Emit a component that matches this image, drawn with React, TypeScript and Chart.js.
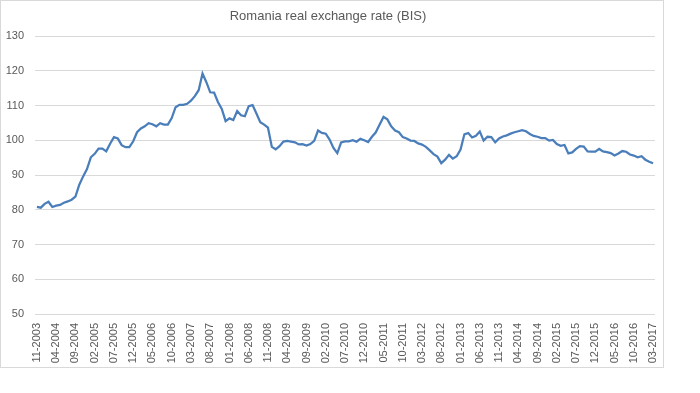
import React, { useEffect, useRef } from "react";
import { Chart, registerables } from "chart.js";

Chart.register(...registerables);

const TITLE = "Romania real exchange rate (BIS)";
const START_YEAR = 2003;
const START_MONTH = 11;

// Monthly values, 11-2003 .. 03-2017
const values2003to2006 = [
  80.8, 80.6, 81.7, 82.3, 80.8, 81.2, 81.4, 82.0, 82.4, 82.9,
  83.8, 87.2, 89.6, 91.7, 95.1, 96.1, 97.6, 97.6, 96.8, 99.0,
  100.9, 100.5, 98.6, 98.0, 98.0, 99.7, 102.3, 103.4, 104.0, 104.9,
  104.6, 104.0, 104.9, 104.5, 104.5, 106.4, 109.5, 110.2, 110.2, 110.5,
];
const values2007to2010 = [
  111.4, 112.7, 114.4, 119.2, 116.7, 113.8, 113.7, 111.0, 109.0, 105.5,
  106.3, 105.8, 108.4, 107.2, 106.9, 109.8, 110.1, 107.7, 105.2, 104.5,
  103.6, 98.1, 97.4, 98.3, 99.6, 99.8, 99.6, 99.4, 98.8, 98.9,
  98.5, 98.9, 99.8, 102.8, 102.1, 101.9, 100.2, 97.8, 96.3, 99.4,
];
const values2010to2013 = [
  99.7, 99.7, 100.0, 99.6, 100.4, 100.0, 99.5, 101.0, 102.3, 104.5,
  106.7, 106.0, 104.0, 102.8, 102.3, 100.9, 100.5, 99.9, 99.8, 99.1,
  98.75, 98.1, 97.1, 96.0, 95.3, 93.4, 94.4, 95.8, 94.7, 95.4,
  97.3, 101.7, 102.1, 100.8, 101.3, 102.5, 99.9, 101.0, 100.9, 99.4,
];
const values2013to2017 = [
  100.5, 101.1, 101.4, 101.9, 102.3, 102.6, 102.9, 102.6, 101.8, 101.25,
  101.0, 100.6, 100.6, 99.9, 100.1, 98.9, 98.4, 98.65, 96.2, 96.5,
  97.5, 98.3, 98.2, 96.8, 96.7, 96.7, 97.5, 96.8, 96.6, 96.3,
  95.6, 96.2, 96.9, 96.7, 95.9, 95.6, 95.1, 95.4, 94.4, 93.8,
  93.4,
];
const VALUES = [
  ...values2003to2006,
  ...values2007to2010,
  ...values2010to2013,
  ...values2013to2017,
];

const LABEL_STEP = 5;
const Y_MIN = 50;
const Y_MAX = 130;
const Y_STEP = 10;

const LABELS: string[] = VALUES.map((_, i) => {
  const m0 = START_MONTH - 1 + i;
  const y = START_YEAR + Math.floor(m0 / 12);
  const m = (m0 % 12) + 1;
  return (m < 10 ? "0" + m : "" + m) + "-" + y;
});

const FONT = "'Liberation Sans', Arial, sans-serif";
const TEXT = "#595959";
const GRID = "#d9d9d9";

export default function App() {
  const ref = useRef<HTMLCanvasElement | null>(null);
  useEffect(() => {
    if (!ref.current) return;
    const chart = new Chart(ref.current, {
      type: "line",
      data: {
        labels: LABELS,
        datasets: [
          {
            data: VALUES,
            borderColor: "#4A7EBB",
            borderWidth: 2.25,
            pointRadius: 0,
            tension: 0,
            fill: false,
          },
        ],
      },
      options: {
        responsive: false,
        animation: false,
        layout: { padding: { left: 0, right: 8, top: 0, bottom: 0 } },
        plugins: {
          legend: { display: false },
          tooltip: { enabled: false },
          title: {
            display: true,
            text: TITLE,
            color: TEXT,
            font: { family: FONT, size: 13, weight: "normal" },
            padding: { top: 8, bottom: 11.4 },
          },
        },
        scales: {
          x: {
            type: "category",
            offset: true,
            grid: { display: false, drawTicks: false },
            border: { display: false },
            ticks: {
              autoSkip: false,
              maxRotation: 90,
              minRotation: 90,
              padding: 9,
              color: TEXT,
              font: { family: FONT, size: 11 },
              callback: (_v: any, i: number) =>
                i % LABEL_STEP === 0 ? LABELS[i] : "",
            },
            afterFit: (s: any) => {
              s.height = 53;
              s.paddingLeft = 0;
              s.paddingRight = 0;
            },
          },
          y: {
            min: Y_MIN,
            max: Y_MAX,
            grid: { color: GRID, lineWidth: 1, drawTicks: false },
            border: { display: false },
            ticks: {
              stepSize: Y_STEP,
              padding: 11,
              color: TEXT,
              font: { family: FONT, size: 11 },
            },
            afterFit: (s: any) => {
              s.width = 34;
            },
          },
        },
      },
    });
    return () => chart.destroy();
  }, []);

  return (
    <div
      style={{
        position: "absolute",
        left: 0,
        top: 0,
        width: 664,
        height: 368,
        boxSizing: "border-box",
        border: "1px solid #d9d9d9",
        background: "#fff",
      }}
    >
      <canvas ref={ref} width={662} height={366} style={{ display: "block" }} />
    </div>
  );
}
